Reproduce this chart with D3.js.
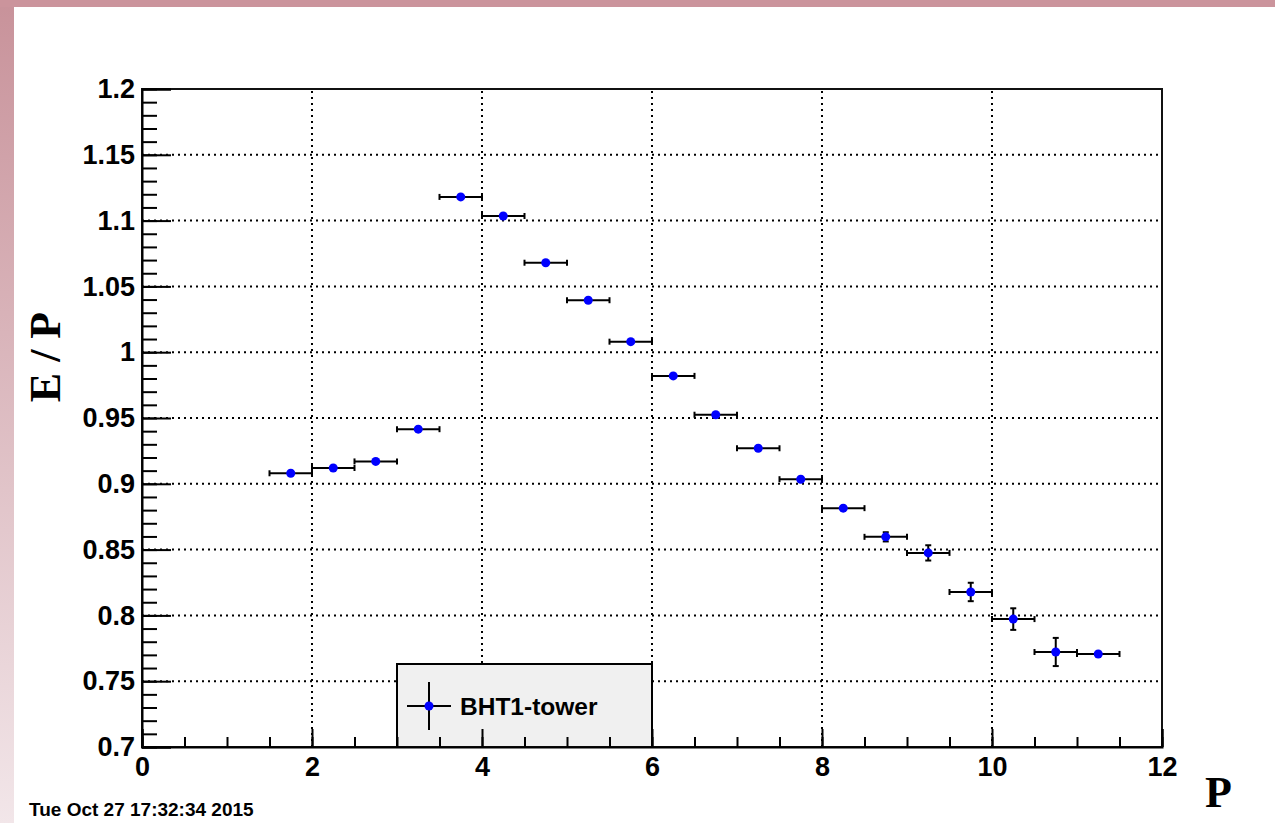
<!DOCTYPE html>
<html>
<head>
<meta charset="utf-8">
<script src="https://cdn.jsdelivr.net/npm/d3@7"></script>
<style>
  body { margin: 0; background: #fff; }
  svg { display: block; }
</style>
</head>
<body>
<svg width="1275" height="823"></svg>
<script>
// bin centres (P) and E/P values, bin half width 0.25
const pCenters = [1.75, 2.25, 2.75, 3.25, 3.75, 4.25, 4.75, 5.25, 5.75, 6.25,
                  6.75, 7.25, 7.75, 8.25, 8.75, 9.25, 9.75, 10.25, 10.75, 11.25];
const epValues = [0.908, 0.912, 0.917, 0.9415, 1.118, 1.1035, 1.068, 1.0395, 1.008, 0.982,
                  0.9525, 0.927, 0.9035, 0.8815, 0.8597, 0.8475, 0.8178, 0.7972, 0.7722, 0.7707];
const epErrors = [0.001, 0.001, 0.001, 0.001, 0.001, 0.001, 0.001, 0.001, 0.0012, 0.0013,
                  0.0015, 0.0017, 0.002, 0.0025, 0.0035, 0.0058, 0.007, 0.0082, 0.0107, 0.002];
const pHalfWidth = 0.25;

const xTicks = [0, 2, 4, 6, 8, 10, 12];
const yTicks = [0.7, 0.75, 0.8, 0.85, 0.9, 0.95, 1, 1.05, 1.1, 1.15, 1.2];
const yLabels = ["0.7", "0.75", "0.8", "0.85", "0.9", "0.95", "1", "1.05", "1.1", "1.15", "1.2"];
const legendLabel = "BHT1-tower";
const dateStamp = "Tue Oct 27 17:32:34 2015";

const svg = d3.select("svg");
const sans = "'Liberation Sans', Arial, Helvetica, sans-serif";
const serif = "'Liberation Serif', 'Times New Roman', serif";

// canvas border (ROOT-ish pink frame)
const defs = svg.append("defs");
const grad = defs.append("linearGradient").attr("id", "leftband")
  .attr("x1", 0).attr("y1", 0).attr("x2", 0).attr("y2", 1);
grad.append("stop").attr("offset", "0%").attr("stop-color", "#c8929a");
grad.append("stop").attr("offset", "100%").attr("stop-color", "#f2e6e9");
svg.append("rect").attr("x", 0).attr("y", 0).attr("width", 14).attr("height", 823)
  .attr("fill", "url(#leftband)");
svg.append("rect").attr("x", 0).attr("y", 0).attr("width", 1275).attr("height", 7)
  .attr("fill", "#cb949c");

const x = d3.scaleLinear().domain([0, 12]).range([142, 1162]);
const y = d3.scaleLinear().domain([0.7, 1.2]).range([747, 89]);

// grid
const grid = svg.append("g")
  .attr("stroke", "#000").attr("stroke-width", 2).attr("stroke-dasharray", "2,4");
grid.selectAll(".gx").data(xTicks.slice(1, -1)).join("line")
  .attr("x1", d => x(d)).attr("x2", d => x(d)).attr("y1", y(0.7)).attr("y2", y(1.2));
grid.selectAll(".gy").data(yTicks.slice(1, -1)).join("line")
  .attr("y1", d => y(d)).attr("y2", d => y(d)).attr("x1", x(0)).attr("x2", x(12));

// legend box (drawn under the frame / axis)
const leg = svg.append("g");
leg.append("rect").attr("x", 397).attr("y", 664).attr("width", 255).attr("height", 83)
  .attr("fill", "#f0f0f0").attr("stroke", "#000").attr("stroke-width", 2);
leg.append("line").attr("x1", 407).attr("x2", 451).attr("y1", 706).attr("y2", 706)
  .attr("stroke", "#000").attr("stroke-width", 2);
leg.append("line").attr("x1", 429).attr("x2", 429).attr("y1", 682).attr("y2", 730)
  .attr("stroke", "#000").attr("stroke-width", 2);
leg.append("circle").attr("cx", 429).attr("cy", 706).attr("r", 4.5).attr("fill", "#0000ff");
leg.append("text").attr("x", 460).attr("y", 715)
  .attr("font-family", sans).attr("font-weight", "bold").attr("font-size", 24.5)
  .text(legendLabel);

// frame
svg.append("rect").attr("x", x(0)).attr("y", y(1.2))
  .attr("width", x(12) - x(0)).attr("height", y(0.7) - y(1.2))
  .attr("fill", "none").attr("stroke", "#111").attr("stroke-width", 2);

// y axis: minor ticks every 0.01, major every 0.05
const yMinor = d3.range(70, 121).map(v => v / 100);
svg.append("g").attr("transform", `translate(${x(0)},0)`)
  .call(d3.axisLeft(y).tickValues(yMinor).tickSize(-15).tickFormat(""))
  .call(g => g.select(".domain").remove())
  .selectAll("line").attr("stroke", "#000").attr("stroke-width", 2);
const yAxis = svg.append("g").attr("transform", `translate(${x(0)},0)`)
  .call(d3.axisLeft(y).tickValues(yTicks).tickSize(-29).tickPadding(7)
    .tickFormat((d, i) => yLabels[i]));
yAxis.selectAll("line").attr("stroke", "#000").attr("stroke-width", 2);
yAxis.select(".domain").attr("stroke", "#000").attr("stroke-width", 2);
yAxis.selectAll("text").attr("font-family", sans).attr("font-weight", "bold")
  .attr("font-size", 27).attr("fill", "#000");

// x axis: minor every 0.5, major every 2
const xMinor = d3.range(0, 25).map(v => v / 2);
svg.append("g").attr("transform", `translate(0,${y(0.7)})`)
  .call(d3.axisBottom(x).tickValues(xMinor).tickSize(-10).tickFormat(""))
  .call(g => g.select(".domain").remove())
  .selectAll("line").attr("stroke", "#000").attr("stroke-width", 2);
const xAxis = svg.append("g").attr("transform", `translate(0,${y(0.7)})`)
  .call(d3.axisBottom(x).tickValues(xTicks).tickSize(-18).tickPadding(10)
    .tickFormat(d3.format("d")));
xAxis.selectAll("line").attr("stroke", "#000").attr("stroke-width", 2);
xAxis.select(".domain").attr("stroke", "#000").attr("stroke-width", 2);
xAxis.selectAll("text").attr("font-family", sans).attr("font-weight", "bold")
  .attr("font-size", 27).attr("fill", "#000");

// data points with error bars
const pts = pCenters.map((p, i) => ({ p, v: epValues[i], e: epErrors[i] }));
const eg = svg.append("g").attr("stroke", "#000").attr("stroke-width", 2);
eg.selectAll(".hx").data(pts).join("line")
  .attr("x1", d => x(d.p - pHalfWidth)).attr("x2", d => x(d.p + pHalfWidth))
  .attr("y1", d => y(d.v)).attr("y2", d => y(d.v));
eg.selectAll(".cl").data(pts).join("line")
  .attr("x1", d => x(d.p - pHalfWidth)).attr("x2", d => x(d.p - pHalfWidth))
  .attr("y1", d => y(d.v) - 3).attr("y2", d => y(d.v) + 3);
eg.selectAll(".cr").data(pts).join("line")
  .attr("x1", d => x(d.p + pHalfWidth)).attr("x2", d => x(d.p + pHalfWidth))
  .attr("y1", d => y(d.v) - 3).attr("y2", d => y(d.v) + 3);
const vis = pts.filter(d => y(d.v - d.e) - y(d.v) > 4.5);
eg.selectAll(".vy").data(vis).join("line")
  .attr("x1", d => x(d.p)).attr("x2", d => x(d.p))
  .attr("y1", d => y(d.v + d.e)).attr("y2", d => y(d.v - d.e));
eg.selectAll(".ct").data(vis).join("line")
  .attr("x1", d => x(d.p) - 3).attr("x2", d => x(d.p) + 3)
  .attr("y1", d => y(d.v + d.e)).attr("y2", d => y(d.v + d.e));
eg.selectAll(".cb").data(vis).join("line")
  .attr("x1", d => x(d.p) - 3).attr("x2", d => x(d.p) + 3)
  .attr("y1", d => y(d.v - d.e)).attr("y2", d => y(d.v - d.e));
svg.append("g").selectAll("circle").data(pts).join("circle")
  .attr("cx", d => x(d.p)).attr("cy", d => y(d.v)).attr("r", 4.5)
  .attr("fill", "#0000ff");

// axis titles
svg.append("text").attr("transform", "translate(60,357) rotate(-90)")
  .attr("text-anchor", "middle").attr("font-family", serif).attr("font-weight", "bold")
  .attr("font-size", 44).text("E / P");
svg.append("text").attr("x", 1232).attr("y", 807).attr("text-anchor", "end")
  .attr("font-family", serif).attr("font-weight", "bold").attr("font-size", 44).text("P");

// date stamp
svg.append("text").attr("x", 29).attr("y", 816)
  .attr("font-family", sans).attr("font-weight", "bold").attr("font-size", 19)
  .text(dateStamp);
</script>
</body>
</html>
